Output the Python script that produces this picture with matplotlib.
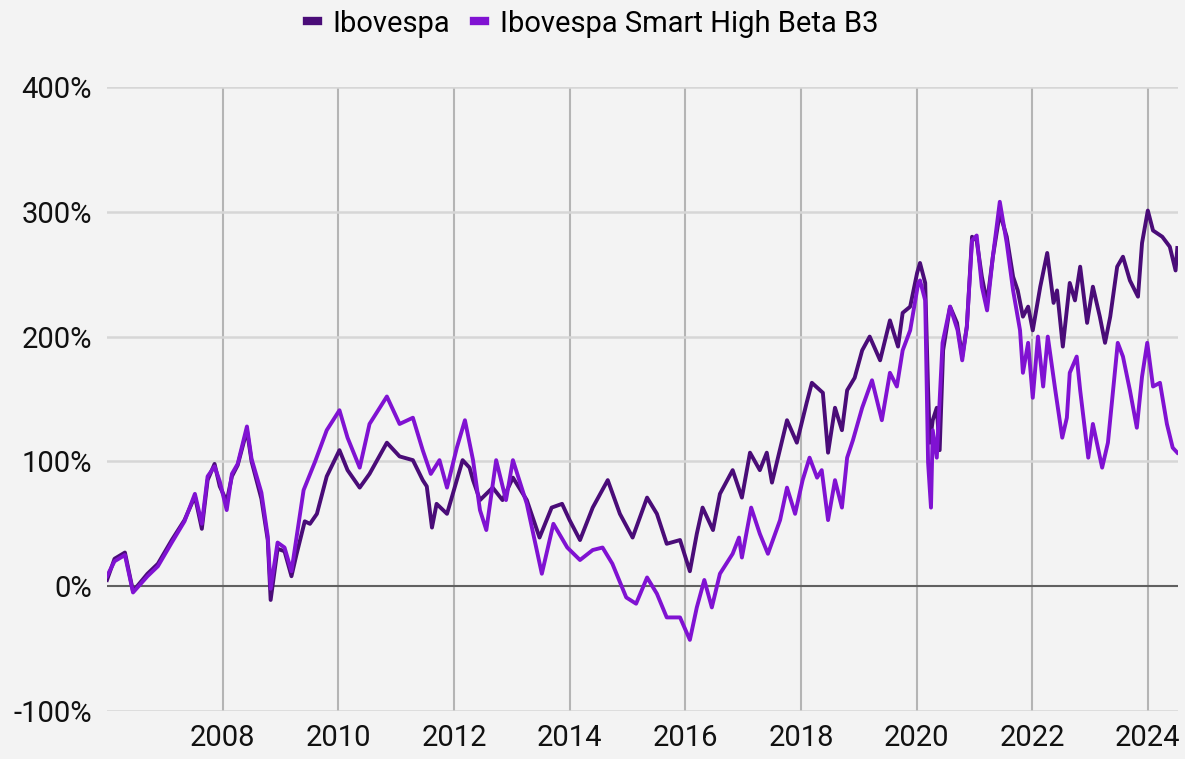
import matplotlib
matplotlib.use("Agg")
import matplotlib.pyplot as plt

plt.rcParams['font.family'] = ['Roboto', 'DejaVu Sans']

# Ibovespa - retorno acumulado (%)
ibov_anos = [2006.00, 2006.13, 2006.31, 2006.45, 2006.70, 2006.88, 2007.12, 2007.34, 2007.52, 2007.64,
             2007.74, 2007.86, 2007.95, 2008.07, 2008.16, 2008.26, 2008.42, 2008.50, 2008.67, 2008.78,
             2008.83, 2008.95, 2009.07, 2009.19, 2009.28, 2009.42, 2009.51, 2009.63, 2009.80, 2010.02,
             2010.16, 2010.37, 2010.54, 2010.84, 2011.06, 2011.29, 2011.46, 2011.53, 2011.62, 2011.70,
             2011.88, 2011.98, 2012.15, 2012.27, 2012.33, 2012.45, 2012.67, 2012.84, 2013.02, 2013.26,
             2013.48, 2013.69, 2013.87, 2014.00, 2014.18, 2014.40, 2014.66, 2014.87, 2015.09, 2015.34,
             2015.51, 2015.68, 2015.91, 2016.08, 2016.20, 2016.30, 2016.48, 2016.60, 2016.82, 2016.98,
             2017.12, 2017.29, 2017.41, 2017.50, 2017.76, 2017.93, 2018.10, 2018.19, 2018.38, 2018.47,
             2018.59, 2018.71, 2018.80, 2018.93, 2019.06, 2019.19, 2019.37, 2019.54, 2019.68, 2019.76,
             2019.89, 2020.01, 2020.06, 2020.15, 2020.20, 2020.23, 2020.28, 2020.35, 2020.40, 2020.46,
             2020.58, 2020.70, 2020.79, 2020.87, 2020.96, 2021.04, 2021.13, 2021.22, 2021.32, 2021.44,
             2021.56, 2021.67, 2021.75, 2021.84, 2021.93, 2022.01, 2022.14, 2022.26, 2022.37, 2022.43,
             2022.53, 2022.65, 2022.74, 2022.83, 2022.95, 2023.05, 2023.17, 2023.26, 2023.35, 2023.47,
             2023.57, 2023.69, 2023.83, 2023.90, 2024.00, 2024.09, 2024.25, 2024.38, 2024.48, 2024.51]
ibov = [5, 22, 27, -4, 10, 18, 37, 53, 72, 46,
        85, 98, 80, 68, 88, 97, 125, 100, 70, 37,
        -11, 30, 28, 8, 26, 52, 50, 58, 88, 109,
        93, 79, 90, 115, 104, 101, 85, 80, 47, 66,
        58, 74, 101, 95, 85, 69, 79, 69, 87, 69,
        39, 63, 66, 53, 37, 63, 85, 58, 39, 71,
        58, 34, 37, 12, 42, 63, 45, 74, 93, 71,
        107, 93, 107, 83, 133, 115, 147, 163, 155, 107,
        143, 125, 157, 167, 189, 200, 181, 213, 192, 219,
        224, 251, 259, 243, 157, 115, 133, 143, 109, 189,
        224, 211, 184, 208, 280, 277, 248, 227, 264, 299,
        280, 248, 237, 216, 224, 205, 240, 267, 227, 237,
        192, 243, 229, 256, 211, 240, 216, 195, 216, 256,
        264, 245, 232, 275, 301, 285, 280, 272, 253, 271]

# Ibovespa Smart High Beta B3 - retorno acumulado (%)
shb_anos = [2006.00, 2006.13, 2006.31, 2006.45, 2006.70, 2006.88, 2007.12, 2007.34, 2007.52, 2007.64,
            2007.74, 2007.86, 2007.95, 2008.07, 2008.16, 2008.26, 2008.42, 2008.50, 2008.67, 2008.78,
            2008.83, 2008.95, 2009.07, 2009.19, 2009.28, 2009.40, 2009.60, 2009.80, 2010.02, 2010.16,
            2010.37, 2010.54, 2010.84, 2011.06, 2011.29, 2011.46, 2011.60, 2011.75, 2011.88, 2012.05,
            2012.19, 2012.33, 2012.45, 2012.56, 2012.73, 2012.90, 2013.02, 2013.26, 2013.52, 2013.72,
            2013.96, 2014.18, 2014.40, 2014.57, 2014.74, 2014.98, 2015.15, 2015.34, 2015.51, 2015.68,
            2015.91, 2016.08, 2016.20, 2016.33, 2016.46, 2016.60, 2016.82, 2016.93, 2016.98, 2017.14,
            2017.29, 2017.43, 2017.64, 2017.76, 2017.90, 2018.03, 2018.15, 2018.28, 2018.36, 2018.47,
            2018.59, 2018.71, 2018.80, 2018.90, 2019.06, 2019.23, 2019.40, 2019.54, 2019.66, 2019.76,
            2019.89, 2020.03, 2020.06, 2020.15, 2020.20, 2020.25, 2020.28, 2020.35, 2020.45, 2020.58,
            2020.71, 2020.79, 2020.87, 2020.96, 2021.04, 2021.13, 2021.22, 2021.32, 2021.44, 2021.56,
            2021.67, 2021.79, 2021.84, 2021.93, 2022.01, 2022.10, 2022.19, 2022.27, 2022.40, 2022.52,
            2022.60, 2022.65, 2022.77, 2022.83, 2022.97, 2023.05, 2023.21, 2023.31, 2023.48, 2023.57,
            2023.69, 2023.81, 2023.90, 2023.99, 2024.09, 2024.21, 2024.33, 2024.43, 2024.51]
shb = [8, 20, 25, -5, 8, 16, 35, 52, 74, 50,
       88, 96, 84, 61, 90, 98, 128, 102, 75, 40,
       -2, 35, 31, 12, 40, 77, 100, 125, 141, 119,
       95, 130, 152, 130, 135, 109, 90, 101, 79, 111,
       133, 101, 61, 45, 101, 69, 101, 66, 10, 50,
       31, 21, 29, 31, 18, -9, -14, 7, -6, -25,
       -25, -43, -17, 5, -17, 10, 26, 39, 23, 63,
       42, 26, 53, 79, 58, 85, 103, 87, 93, 53,
       85, 63, 103, 117, 143, 165, 133, 171, 160, 189,
       205, 243, 245, 229, 99, 63, 125, 103, 195, 224,
       205, 181, 208, 277, 281, 240, 221, 264, 308, 275,
       237, 205, 171, 195, 151, 200, 160, 200, 157, 119,
       135, 171, 184, 157, 103, 130, 95, 115, 195, 184,
       157, 127, 168, 195, 160, 163, 130, 111, 107]

anos_ticks = [2008, 2010, 2012, 2014, 2016, 2018, 2020, 2022, 2024]
y_ticks = [-100, 0, 100, 200, 300, 400]

bg = '#f3f3f3'
fig = plt.figure(figsize=(11.85, 7.59), dpi=100, facecolor=bg)
ax = fig.add_axes([0.0903, 0.0632, 0.9037, 0.8222], facecolor=bg)

ax.plot(ibov_anos, ibov, color='#4a0c78', lw=2.8, label='Ibovespa', zorder=3)
ax.plot(shb_anos, shb, color='#8012d2', lw=2.8, label='Ibovespa Smart High Beta B3', zorder=3)

ax.set_xlim(2006.0, 2024.52)
ax.set_ylim(-100, 400)
ax.set_xticks(anos_ticks)
ax.set_xticklabels([str(a) for a in anos_ticks])
ax.set_yticks(y_ticks)
ax.set_yticklabels([f'{v}%' for v in y_ticks])

for a in anos_ticks:
    ax.axvline(a, color='#b4b4b4', lw=1.5, zorder=1)
for v in y_ticks:
    if v == 0:
        ax.axhline(v, color='#606060', lw=1.5, zorder=2)
    else:
        ax.axhline(v, color='#d6d6d6', lw=1.8, zorder=1)

for s in ax.spines.values():
    s.set_visible(False)
ax.tick_params(length=0, labelsize=21, colors='#111111')
ax.tick_params(axis='x', pad=9)
ax.tick_params(axis='y', pad=11)

leg = fig.legend(loc='upper center', bbox_to_anchor=(0.5, 1.022), ncol=2, frameon=False,
                 fontsize=21, handlelength=0.4, handletextpad=0.5, columnspacing=0.8)
for h in leg.legend_handles:
    h.set_linewidth(6)

fig.savefig('out.png', dpi=100, facecolor=bg)
